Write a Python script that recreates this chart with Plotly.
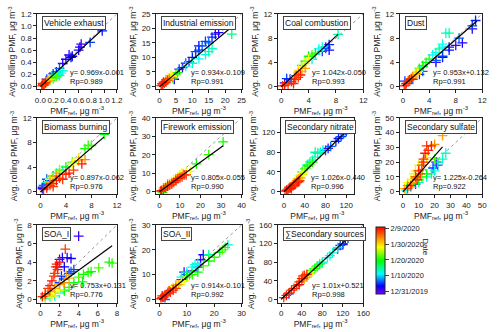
import plotly.graph_objects as go

# day index: 0 = 12/31/2019, 40 = 2/9/2020
DATE_TICKS = [0, 10, 20, 30, 40]
DATE_LABELS = ["12/31/2019", "1/10/2020", "1/20/2020", "1/30/2020", "2/9/2020"]

NAMES = ["Vehicle exhaust", "Industrial emission", "Coal combustion", "Dust",
         "Biomass burning", "Firework emission", "Secondary nitrate", "Secondary sulfate",
         "SOA_I", "SOA_II", "\u2211Secondary sources"]
SLOPES = [0.969, 0.934, 1.042, 0.953, 0.897, 0.805, 1.026, 1.225, 0.753, 0.914, 1.01]
INTERCEPTS = [-0.001, -0.109, -0.050, 0.132, -0.062, -0.055, -0.440, -0.264, 0.131, -0.101, 0.521]
EQUATIONS = ["y= 0.969x-0.001", "y= 0.934x-0.109", "y= 1.042x-0.050", "y= 0.953x+0.132",
             "y= 0.897x-0.062", "y= 0.805x-0.055", "y= 1.026x-0.440", "y= 1.225x-0.264",
             "y= 0.753x+0.131", "y= 0.914x-0.101", "y= 1.01x+0.521"]
RP = ["0.989", "0.991", "0.993", "0.991", "0.976", "0.990", "0.996", "0.922", "0.776", "0.992", "0.998"]
AXIS_MAX = [1.2, 25, 12, 12, 12, 40, 150, 50, 8, 30, 160]
DTICK = [0.2, 5, 4, 4, 4, 10, 40, 10, 2, 10, 40]
FIT_END = [0.98, 22, 8.3, 11.2, 10, 31, 121, 25, 7.5, 25, 132]

# Vehicle exhaust
VE_REF = [0.35, 0.4, 0.45, 0.5, 0.62, 0.64, 0.6, 0.48, 0.1, 0.15, 0.2, 0.25, 0.3, 0.78, 0.97,
          0.22, 0.28, 0.32, 0.35, 0.3, 0.15, 0.2, 0.18, 0.25, 0.1, 0.13, 0.15, 0.08, 0.1, 0.12,
          0.02, 0.04, 0.06, 0.03, 0.08, 0.05]
VE_ROLL = [0.38, 0.45, 0.52, 0.5, 0.65, 0.7, 0.6, 0.48, 0.12, 0.16, 0.21, 0.24, 0.3, 0.73, 0.92,
           0.16, 0.2, 0.22, 0.26, 0.18, 0.1, 0.13, 0.15, 0.17, 0.06, 0.09, 0.12, 0.07, 0.08, 0.1,
           0.01, 0.03, 0.04, 0.05, 0.06, 0.02]
VE_DAY = [1, 2, 1, 3, 2, 1, 2, 3, 5, 6, 5, 4, 6, 5, 4,
          12, 13, 11, 12, 14, 20, 21, 19, 22, 28, 29, 27, 33, 34, 32,
          39, 40, 38, 39, 40, 38]

# Industrial emission
IE_REF = [4.5, 7, 9, 17, 18, 12, 6, 8, 10, 11, 13, 14, 16, 15, 12,
          8, 10, 12, 14, 15, 16, 22, 4, 5, 5.5, 3, 4, 3.5, 2, 3, 2.5,
          0.5, 1, 1.5, 2, 1.2, 2.5, 0.8]
IE_ROLL = [2.5, 6.5, 8.5, 18, 18.5, 14, 6, 8, 10, 12, 14, 15.5, 17, 15, 12.5,
           7, 8, 9.5, 11, 12, 13, 18, 3, 4, 4.8, 2.5, 3.5, 3.8, 2.3, 2.8, 2,
           0.3, 0.8, 1.2, 1.5, 1.5, 2.2, 1]
IE_DAY = [2, 1, 2, 1, 2, 3, 5, 6, 4, 5, 6, 5, 4, 6, 5,
          12, 13, 11, 12, 14, 13, 15, 20, 21, 19, 28, 29, 27, 33, 34, 32,
          39, 40, 38, 39, 40, 38, 39]

# Coal combustion
CC_REF = [6.5, 7, 0.5, 0.8, 1.3, 6, 6.5, 7, 4.5, 5, 5.5, 6, 8.3, 3, 3.5, 4, 4.5, 5,
          2.5, 3, 3.5, 4, 2, 2.5, 3, 3.5, 0.2, 0.5, 1, 1.5, 2, 2.5, 1.8, 2.8, 2.2]
CC_ROLL = [6.5, 6, 0.6, 1.3, 1.2, 5.8, 6.3, 6.9, 4.5, 5.3, 6.2, 6.5, 8.6, 3.5, 4.2, 5, 5.2, 5.5,
           2.7, 3.2, 3.8, 4.5, 1.8, 2.2, 2.5, 3, 0.1, 0.2, 0.4, 0.8, 1.2, 1.5, 0.5, 1.9, 1.8]
CC_DAY = [1, 2, 2, 5, 4, 5, 6, 4, 12, 13, 11, 12, 14, 20, 21, 19, 22, 20,
          28, 29, 27, 28, 33, 34, 32, 33, 39, 40, 38, 39, 40, 38, 39, 40, 38]

# Dust
DU_REF = [5, 7, 8, 9, 10.5, 6, 0.3, 1.5, 2.5, 3, 5, 6, 7, 8.5, 10.5, 11, 3,
          3, 4, 4.5, 5, 5.5, 6, 6.5, 7, 6, 2.5, 3, 3.5, 4, 1.5, 2, 2.3, 1.2, 1.5, 2,
          0.2, 0.5, 0.8, 1, 1.3, 0.4]
DU_ROLL = [4, 6.5, 6.8, 7.2, 9.5, 4.8, 0.9, 1.2, 2, 3.3, 4.3, 5, 6, 8, 10, 10.9, 2.5,
           3.3, 4.5, 5.2, 5.6, 6.2, 6.5, 8.8, 8.8, 7, 3, 3.5, 4, 4.5, 1.8, 2.3, 2.5, 1.3, 1.6, 2,
           0.1, 0.5, 0.9, 1.1, 1.2, 0.2]
DU_DAY = [1, 2, 1, 2, 1, 3, 5, 6, 4, 5, 6, 5, 4, 6, 5, 4, 6,
          12, 13, 11, 12, 14, 13, 12, 14, 11, 20, 21, 19, 22, 28, 29, 27, 33, 34, 32,
          39, 40, 38, 39, 40, 38]

# Biomass burning
BB_REF = [0.3, 1, 0.3, 1, 1.5, 2, 0.5, 1, 2.5, 3.5, 2, 3, 4, 5, 7, 7.5, 10, 8,
          1.5, 2, 3, 5, 6, 1.5, 2.5, 3, 6, 7,
          0.5, 1, 1.5, 2, 2.5, 3, 4, 4.5, 5.2, 3.5, 6.5, 2]
BB_ROLL = [0.5, 1.2, 0.7, 2, 1.8, 2.5, 1, 1.5, 3, 3.5, 2.5, 3.5, 4, 4.8, 7, 7.5, 9.3, 7.5,
           2, 2.3, 3.3, 4.5, 5.5, 1.5, 2.5, 3, 5, 5.2,
           0.3, 0.6, 1, 1.3, 1.8, 2.2, 2.8, 3, 3.5, 2, 4.5, 0.8]
BB_DAY = [1, 2, 5, 6, 4, 5, 6, 12, 13, 11, 20, 21, 19, 22, 20, 21, 19, 22,
          28, 29, 27, 28, 29, 33, 34, 32, 33, 34,
          39, 40, 38, 39, 40, 38, 39, 40, 38, 39, 40, 38]

# Firework emission
FW_REF = [18, 24, 31, 1.5, 3, 5, 7, 9, 11, 13, 15, 10, 2, 4, 6, 8,
          0.5, 1, 2, 3, 4, 5, 7, 8, 10, 11, 12, 13, 6, 9]
FW_ROLL = [15, 20, 27, -0.5, 3, 4.5, 6.5, 8, 10, 11, 11, 9, 2, 4, 5, 7,
           0.2, 0.5, 1, 2, 3, 3.5, 5, 6, 7.5, 8, 9, 9, 4, 7]
FW_DAY = [20, 21, 20, 21, 28, 29, 27, 28, 29, 27, 28, 29, 33, 34, 32, 33,
          39, 40, 38, 39, 40, 38, 39, 40, 38, 39, 40, 38, 39, 40]

# Secondary nitrate
SN_REF = [85, 80, 90, 100, 110, 115, 120, 105, 118, 45, 50, 55, 60, 65, 70, 75, 60,
          35, 40, 45, 50, 55, 25, 30, 35, 38, 20, 25, 28, 32,
          2, 5, 8, 10, 12, 15, 18, 20, 22, 25, 28, 30, 6, 14]
SN_ROLL = [88, 84, 92, 102, 112, 118, 122, 108, 125, 55, 60, 64, 70, 78, 80, 85, 80,
           40, 46, 52, 56, 60, 26, 32, 35, 40, 18, 22, 26, 28,
           1, 3, 5, 7, 8, 10, 12, 14, 16, 18, 20, 22, 2, 6]
SN_DAY = [1, 5, 6, 4, 5, 6, 5, 4, 6, 12, 13, 11, 12, 14, 13, 12, 14,
          20, 21, 19, 22, 20, 28, 29, 27, 28, 33, 34, 32, 33,
          39, 40, 38, 39, 40, 38, 39, 40, 38, 39, 40, 38, 39, 40]

# Secondary sulfate
SS_REF = [21, 19, 22, 8, 5, 10, 15, 20, 22, 25, 27, 2, 18, 10, 12, 15, 20, 5,
          5, 8, 10, 12, 15, 7, 3, 25, 20, 12, 6, 3, 1, 8,
          8, 10, 12, 13, 14, 15, 16, 18, 11, 9, 5, 3, 13]
SS_ROLL = [20, 16, 18, 5, 3, 6, 10, 14, 20, 22, 26, 1, 12, 8, 10, 12, 22, 5,
           8, 14, 18, 20, 23, 12, 6, 38, 32, 15, 6, 4, 2, 9,
           10, 14, 18, 22, 26, 31, 28, 31, 12, 8, 4, 2, 20]
SS_DAY = [2, 5, 6, 5, 12, 13, 11, 12, 14, 13, 12, 11, 14, 20, 21, 19, 22, 20,
          28, 29, 27, 28, 29, 27, 28, 33, 34, 32, 33, 34, 32, 33,
          39, 40, 38, 39, 40, 38, 39, 40, 38, 39, 40, 38, 39]

# SOA_I
S1_REF = [2, 2.3, 2.8, 3.2, 4, 2.5, 1.8, 2, 2.5, 3, 3.5, 3.2, 2.2,
          1, 1.5, 2, 2.5, 0.5, 2.5, 3, 3.5, 4, 4.5, 5, 5.3, 6.1, 7.2, 7.5, 4.4,
          0.5, 1, 1.5, 2, 1.2, 0.5, 1, 1.5, 2, 2.5, 3, 2.7,
          0.2, 0.5, 0.8, 1, 1.2, 1.5, 1.6, 1.7, 2.6, 1.8, 2, 1.4]
S1_ROLL = [4.3, 4.5, 4.5, 4.4, 6.8, 3.5, 3.5, 1.8, 2.2, 2.8, 3.2, 3, 2.5,
           0.3, 0.4, 0.7, 0.9, 0.1, 1, 1.3, 1.8, 2.4, 2.7, 2.9, 3, 3.4, 4, 3.9, 1.9,
           0.2, 0.5, 0.8, 1, 0.4, 0.4, 0.9, 1.2, 1.6, 1.8, 2.3, 2.6,
           0.3, 0.6, 1.2, 1.5, 2, 2.8, 3.5, 3.8, 5.4, 3.2, 4, 2.5]
S1_DAY = [1, 2, 1, 2, 1, 3, 2, 5, 6, 4, 5, 6, 4,
          12, 13, 11, 12, 14, 20, 21, 19, 22, 20, 21, 19, 22, 20, 21, 19,
          28, 29, 27, 28, 29, 33, 34, 32, 33, 34, 32, 33,
          39, 40, 38, 39, 40, 38, 39, 40, 38, 39, 40, 38]

# SOA_II
S2_REF = [9, 16, 15, 8, 10, 12, 14, 2, 8, 10, 12, 14, 18, 25, 13,
          10, 12, 14, 16, 18, 20, 22, 23, 11, 24, 4, 6, 8, 9, 3, 5, 7, 6,
          0.5, 1, 1.5, 2, 2.5, 3, 4, 5, 6, 3.5, 1]
S2_ROLL = [11, 18, 16, 8, 10, 11.5, 13, 0, 9, 11, 13, 14.5, 18, 22, 14,
           9, 10, 11, 13.5, 15.5, 17, 19, 20, 10, 21, 4, 5.5, 7, 7.5, 3, 4.5, 6, 5.8,
           0.3, 0.8, 1, 1.5, 2, 2.5, 3, 3.8, 4.5, 3.5, 1.5]
S2_DAY = [1, 2, 1, 5, 6, 4, 5, 6, 12, 13, 11, 12, 14, 13, 12,
          20, 21, 19, 22, 20, 21, 19, 22, 20, 21, 28, 29, 27, 28, 33, 34, 32, 33,
          39, 40, 38, 39, 40, 38, 39, 40, 38, 39, 40]

# Sum of secondary sources
SU_REF = [120, 115, 120, 125, 130, 110, 15, 70, 80, 90, 100, 110, 80, 95,
          55, 60, 65, 70, 75, 45, 50, 55, 60, 30, 40, 45, 50,
          5, 10, 15, 20, 25, 30, 35, 40, 45, 50, 35, 42]
SU_ROLL = [118, 116, 120, 128, 132, 108, 12, 70, 80, 90, 100, 112, 78, 94,
           56, 62, 66, 72, 76, 46, 52, 55, 60, 30, 40, 44, 48,
           4, 9, 14, 20, 24, 30, 38, 45, 52, 54, 32, 50]
SU_DAY = [1, 5, 6, 4, 5, 6, 4, 12, 13, 11, 12, 14, 13, 12,
          20, 21, 19, 22, 20, 28, 29, 27, 28, 33, 34, 32, 33,
          39, 40, 38, 39, 40, 38, 39, 40, 38, 39, 40, 38]

REFS = [VE_REF, IE_REF, CC_REF, DU_REF, BB_REF, FW_REF, SN_REF, SS_REF, S1_REF, S2_REF, SU_REF]
ROLLS = [VE_ROLL, IE_ROLL, CC_ROLL, DU_ROLL, BB_ROLL, FW_ROLL, SN_ROLL, SS_ROLL, S1_ROLL, S2_ROLL, SU_ROLL]
DAYS = [VE_DAY, IE_DAY, CC_DAY, DU_DAY, BB_DAY, FW_DAY, SN_DAY, SS_DAY, S1_DAY, S2_DAY, SU_DAY]

W, H = 500, 332
COLS = [(36, 117), (157, 244), (281, 368), (405, 489)]
ROWS = [(10, 87), (116, 194), (225, 304)]

RAINBOW = [[0.0, "#8000ff"], [0.12, "#0000ff"], [0.3, "#00ffff"], [0.5, "#00ff00"],
           [0.7, "#ffff00"], [0.85, "#ff8000"], [1.0, "#ff0000"]]

FONT = "Liberation Sans, Arial, sans-serif"
INK = "#222"

fig = go.Figure()
layout = {}

for i, name in enumerate(NAMES):
    r, c = divmod(i, 4)
    n = "" if i == 0 else str(i + 1)
    xa, ya = "x" + n, "y" + n
    x0, x1 = COLS[c]
    if i == 6:
        x0, x1 = 284, 358
    y0, y1 = ROWS[r]
    top = AXIS_MAX[i]
    lo = -0.04 * top
    xtop = 134 if i == 6 else top

    # dashed 1:1 reference
    fig.add_trace(go.Scatter(x=[0, top], y=[0, top], mode="lines", xaxis=xa, yaxis=ya,
                             line=dict(color="#999999", width=1, dash="3px,3px"),
                             showlegend=False, hoverinfo="skip"))
    fig.add_trace(go.Scatter(x=REFS[i], y=ROLLS[i], mode="markers", xaxis=xa, yaxis=ya,
                             marker=dict(symbol="cross-thin-open", size=7,
                                         color=DAYS[i], coloraxis="coloraxis",
                                         line=dict(width=1.3)),
                             showlegend=False))
    fx = [0, FIT_END[i]]
    fig.add_trace(go.Scatter(x=fx, y=[SLOPES[i] * v + INTERCEPTS[i] for v in fx],
                             mode="lines", xaxis=xa, yaxis=ya,
                             line=dict(color="black", width=1.2),
                             showlegend=False, hoverinfo="skip"))

    tickfmt = ".1f" if i == 0 else ""
    common = dict(showline=True, linecolor=INK, linewidth=1, mirror=True,
                  ticks="outside", ticklen=3, tickcolor=INK, showgrid=False,
                  zeroline=False, dtick=DTICK[i], tick0=0, tickformat=tickfmt,
                  tickfont=dict(size=8, color=INK), tickangle=0)
    layout["xaxis" + n] = dict(common, domain=[x0 / W, x1 / W], anchor=ya,
                               range=[lo, xtop],
                               title=dict(text="PMF<sub>ref</sub>, \u03bcg m<sup>-3</sup>",
                                          font=dict(size=8.5, color=INK), standoff=3))
    layout["yaxis" + n] = dict(common, domain=[1 - y1 / H, 1 - y0 / H], anchor=xa,
                               range=[lo, top],
                               title=dict(text="Avg. rolling PMF, \u03bcg m<sup>-3</sup>",
                                          font=dict(size=8.5, color=INK), standoff=3))

    ref = dict(xref=xa + " domain", yref=ya + " domain", showarrow=False)
    fig.add_annotation(ref, x=0.06, y=0.97, xanchor="left", yanchor="top", text=name,
                       font=dict(size=8.5, color="#111", family=FONT),
                       bordercolor="#444", borderwidth=1, borderpad=1, bgcolor="white")
    fig.add_annotation(ref, x=0.38, y=0.22, xanchor="left", yanchor="middle",
                       text=EQUATIONS[i], font=dict(size=7.5, color="#111", family=FONT))
    fig.add_annotation(ref, x=0.38, y=0.10, xanchor="left", yanchor="middle",
                       text="Rp=" + RP[i], font=dict(size=7.5, color="#111", family=FONT))

layout["coloraxis"] = dict(
    colorscale=RAINBOW, cmin=-2, cmax=41,
    colorbar=dict(x=381 / W, xanchor="left", y=1 - 261.5 / H, yanchor="middle",
                  thickness=9, len=67, lenmode="pixels", xpad=0, ypad=0,
                  tickvals=DATE_TICKS, ticktext=DATE_LABELS, ticks="outside", ticklen=4,
                  tickfont=dict(size=7.5, color=INK), outlinecolor=INK, outlinewidth=1))

fig.add_annotation(xref="paper", yref="paper", x=438 / W, y=1 - 258 / H, text="Date",
                   textangle=90, showarrow=False, font=dict(size=8, color=INK, family=FONT))

fig.update_layout(layout)
fig.update_layout(width=W, height=H, margin=dict(l=0, r=0, t=0, b=0),
                  plot_bgcolor="white", paper_bgcolor="white",
                  font=dict(family=FONT, size=8, color=INK))

# the page's default body margin would shift the figure by 8px
fig.write_html("out.html", config={"displayModeBar": False},
               post_script="document.body.style.margin='0';document.body.style.overflow='hidden';")
